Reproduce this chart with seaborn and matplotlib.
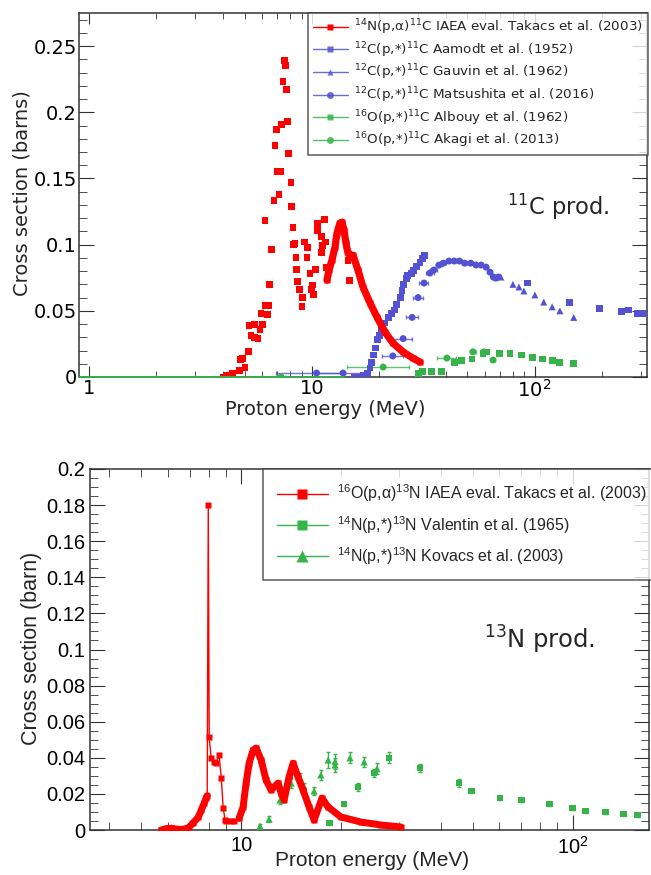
import numpy as np
import pandas as pd
import matplotlib
matplotlib.use("Agg")
import matplotlib.pyplot as plt
import seaborn as sns
from matplotlib.lines import Line2D
from matplotlib.ticker import FixedLocator, FixedFormatter, MultipleLocator, NullFormatter

# ---------------- DATA : top panel (11C production) ----------------
# 14N(p,a)11C IAEA eval. Takacs (scattered resonance region)
c_tak_scatter_E = [3.99, 4.1, 4.16, 4.3, 4.42, 4.75, 4.80, 4.90, 5.01, 5.17, 5.22, 5.33, 5.55, 5.55,
                   5.73, 5.85, 5.91, 6.03, 6.16, 6.22, 6.35, 6.42, 6.48, 6.62, 6.76, 6.83, 6.97,
                   7.04, 7.12, 7.27, 7.34, 7.42, 7.57, 7.65, 7.73, 7.81, 7.89, 8.06, 8.14, 8.23,
                   8.31, 8.40, 8.49, 8.57, 8.66, 8.84, 9.03, 9.12, 9.31, 9.51, 9.60, 9.81, 10.0,
                   10.1, 10.2, 10.4, 10.55, 10.65, 11.0, 11.1, 11.2, 11.45, 11.57, 11.69, 14.53, 14.83]
c_tak_scatter_S = [0.0, 0.0, 0.0015, 0.0008, 0.003, 0.005, 0.013, 0.014, 0.0075, 0.019, 0.039, 0.031,
                   0.040, 0.030, 0.029, 0.036, 0.048, 0.040, 0.1185, 0.054, 0.047, 0.054, 0.070,
                   0.096, 0.133, 0.175, 0.187, 0.155, 0.138, 0.155, 0.191, 0.2235, 0.239, 0.2356,
                   0.217, 0.193, 0.169, 0.147, 0.129, 0.113, 0.100, 0.101, 0.090, 0.0815, 0.0725,
                   0.066, 0.053, 0.060, 0.102, 0.090, 0.098, 0.0785, 0.066, 0.0695, 0.062, 0.081,
                   0.116, 0.111, 0.094, 0.106, 0.0997, 0.119, 0.102, 0.083, 0.088, 0.073]
# smooth part of the evaluation
c_tak_curve_E = [11.69, 11.94, 12.31, 12.70, 12.97, 13.37, 13.65, 13.94, 14.23, 14.53, 14.83,
                 15.30, 16.10, 16.97, 18.24, 19.60, 21.30, 23.10, 25.70, 28.40, 30.60]
c_tak_curve_S = [0.0732, 0.0808, 0.0883, 0.098, 0.1087, 0.1163, 0.117, 0.111, 0.101, 0.0936,
                 0.092, 0.092, 0.081, 0.068, 0.056, 0.0453, 0.034, 0.0257, 0.0189, 0.0143, 0.0113]

# 12C(p,*)11C Aamodt (1952)
c_aam_E = [15.6, 16.4, 17.1, 17.7, 18.24, 18.6, 19.0, 19.4, 19.8, 20.2, 20.6, 21.3, 22.0, 22.7,
           23.4, 24.1, 24.9, 25.4, 25.9, 26.5, 27.0, 27.9, 28.7, 29.6, 30.6, 31.5, 32.2,
           93.4, 144.0, 195.0, 247.0, 263.0, 291.0, 310.0]
c_aam_S = [0.0, 0.0, 0.0008, 0.003, 0.0068, 0.0113, 0.0166, 0.0219, 0.028, 0.0317, 0.0355,
           0.0408, 0.0453, 0.0483, 0.0506, 0.0551, 0.0604, 0.0657, 0.0702, 0.0747, 0.077,
           0.0785, 0.0808, 0.0838, 0.0868, 0.0898, 0.0921,
           0.071, 0.0566, 0.052, 0.0498, 0.0506, 0.048, 0.048]
# 12C(p,*)11C Gauvin (1962)
c_gau_E = [70.6, 80.0, 85.1, 89.6, 100.4, 110.0, 120.0, 130.0, 150.0]
c_gau_S = [0.0755, 0.070, 0.068, 0.065, 0.062, 0.0566, 0.053, 0.050, 0.045]
# 12C(p,*)11C Matsushita (2016)
c_mat_E = [10.5, 13.8, 23.1, 25.7, 28.2, 30.0, 31.9, 33.9, 35.3, 37.2, 39.0, 41.3, 43.6, 46.0,
           48.6, 51.7, 54.6, 57.6, 60.6, 63.1, 65.3, 66.9, 68.8]
c_mat_S = [0.003, 0.003, 0.0159, 0.029, 0.045, 0.060, 0.071, 0.0785, 0.0808, 0.0845, 0.086,
           0.0876, 0.0876, 0.0876, 0.086, 0.086, 0.0846, 0.0846, 0.083, 0.0792, 0.0755,
           0.0747, 0.0755]
c_mat_xerr = [3.6, 3.5, 2.5, 2.5, 1.7, 1.6, 1.5, 1.5, 1.2, 1.2, 1.2, 1.2, 1.2, 1.2, 1.2,
              1.2, 1.2, 1.2, 1.2, 1.2, 1.2, 1.2, 1.2]
# 16O(p,*)11C Albouy (1962)
c_alb_E = [30.0, 31.5, 34.6, 38.4, 43.9, 47.2, 52.4, 58.7, 61.1, 69.9, 77.6, 87.8, 98.4,
           109.0, 120.0, 130.0, 149.0]
c_alb_S = [0.0023, 0.0038, 0.0038, 0.0038, 0.0113, 0.0125, 0.0136, 0.018, 0.0189, 0.018,
           0.0175, 0.0166, 0.015, 0.0136, 0.0128, 0.0113, 0.0105]
# 16O(p,*)11C Akagi (2013)
c_aka_E = [7.27, 20.9, 40.4, 52.9, 59.2, 65.1]
c_aka_S = [0.0, 0.0075, 0.0143, 0.019, 0.019, 0.0128]
c_aka_xerr = [0.3, 6.5, 4.0, 1.5, 1.5, 1.5]
c_zero_line_E = [0.9, 14.0]
c_zero_line_S = [0.0, 0.0]

# ---------------- DATA : bottom panel (13N production) ----------------
n_tak_E = [5.74, 5.95, 6.16, 6.37, 6.60, 6.92, 7.17, 7.42, 7.58, 7.74, 7.85, 7.90, 7.96, 8.01,
           8.12, 8.29, 8.41, 8.58, 8.71, 8.83, 8.95, 9.01, 9.33, 9.53, 9.86, 10.14, 10.35,
           10.57, 10.87, 11.10, 11.49, 11.89, 12.31, 12.93, 13.20, 13.48, 13.95, 14.35, 14.85,
           15.37, 16.03, 16.60, 17.54, 18.28, 20.0, 23.0, 26.4, 30.3]
n_tak_S = [0.0, 0.0008, 0.001, 0.0005, 0.0003, 0.001, 0.004, 0.007, 0.011, 0.0150, 0.018,
           0.019, 0.180, 0.0515, 0.040, 0.0377, 0.037, 0.0415, 0.029, 0.012, 0.0055, 0.005,
           0.005, 0.005, 0.0065, 0.0128, 0.026, 0.037, 0.0443, 0.0454, 0.0388, 0.0277, 0.0222,
           0.026, 0.0205, 0.0166, 0.0294, 0.037, 0.0294, 0.0222, 0.0128, 0.0055, 0.0177,
           0.0128, 0.0072, 0.0044, 0.0028, 0.0017]
# index ranges where the evaluation points are so dense they form a band
n_tak_dense_low = (0, 12)     # 5.7 .. 7.9 MeV
n_tak_dense_high = (24, 48)   # 9.9 .. 30 MeV
# 14N(p,*)13N Valentin (1965)
n_val_E = [18.5, 20.4, 22.5, 25.2, 27.9, 34.6, 45.4, 49.6, 60.3, 70.2, 85.2, 100.0, 109.4,
           125.7, 142.4, 157.0]
n_val_S = [0.0039, 0.0144, 0.0238, 0.0316, 0.040, 0.0343, 0.026, 0.0216, 0.0177, 0.0166,
           0.0144, 0.0122, 0.0105, 0.0100, 0.0089, 0.0083]
n_val_yerr = [0.001, 0.001, 0.002, 0.002, 0.003, 0.002, 0.002, 0.001, 0.001, 0.001, 0.001,
              0.001, 0.001, 0.001, 0.001, 0.001]
# 14N(p,*)13N Kovacs (2003)
n_kov_E = [11.4, 12.14, 13.1, 14.15, 15.06, 15.48, 16.6, 17.4, 18.3, 19.2, 19.2, 21.3, 23.5, 25.7]
n_kov_S = [0.0022, 0.006, 0.0166, 0.026, 0.0288, 0.0238, 0.0216, 0.0305, 0.0388, 0.038,
           0.036, 0.040, 0.0377, 0.034]
n_kov_yerr = [0.001, 0.0015, 0.002, 0.003, 0.003, 0.002, 0.002, 0.003, 0.0045, 0.004,
              0.004, 0.003, 0.003, 0.003]

# ---------------- STYLE ----------------
RED = "#ff0000"
BLUE = "#5252d2"
GREEN = "#36b44a"
sns.set_style("ticks")
plt.rcParams["font.family"] = ["DejaVu Sans"]
plt.rcParams["mathtext.default"] = "regular"
plt.rcParams["axes.linewidth"] = 1.1
plt.rcParams["axes.edgecolor"] = "#333333"

fig = plt.figure(figsize=(6.51, 8.75), dpi=100)
W, H = 651.0, 875.0
ax1 = fig.add_axes([79 / W, 1 - 377 / H, 568 / W, 364 / H])
ax2 = fig.add_axes([90 / W, 1 - 830 / H, 559 / W, 361 / H])

ms = 5.0
# ---------- top panel ----------
sns.lineplot(x=c_zero_line_E, y=c_zero_line_S, ax=ax1, color=GREEN, lw=1.3, zorder=6,
             clip_on=False)
sns.scatterplot(x=c_tak_scatter_E, y=c_tak_scatter_S, ax=ax1, marker="s", s=ms**2,
                color=RED, edgecolor="none", zorder=5)
sns.lineplot(x=c_tak_curve_E, y=c_tak_curve_S, ax=ax1, color=RED, lw=5.2, zorder=5,
             marker="s", markersize=ms, markeredgecolor="none", sort=False)
ax1.errorbar(c_mat_E, c_mat_S, xerr=c_mat_xerr, fmt="none", ecolor=BLUE, elinewidth=1,
             capsize=1.5, alpha=0.8, zorder=3)
sns.scatterplot(x=c_mat_E, y=c_mat_S, ax=ax1, marker="o", s=ms**2, color=BLUE,
                edgecolor="none", zorder=4)
sns.scatterplot(x=c_aam_E, y=c_aam_S, ax=ax1, marker="s", s=ms**2, color=BLUE,
                edgecolor="none", zorder=4)
sns.scatterplot(x=c_gau_E, y=c_gau_S, ax=ax1, marker="^", s=ms**2, color=BLUE,
                edgecolor="none", zorder=4)
ax1.errorbar(c_aka_E, c_aka_S, xerr=c_aka_xerr, fmt="none", ecolor=GREEN, elinewidth=1,
             capsize=1.5, alpha=0.8, zorder=3)
sns.scatterplot(x=c_alb_E, y=c_alb_S, ax=ax1, marker="s", s=ms**2, color=GREEN,
                edgecolor="none", zorder=4)
sns.scatterplot(x=c_aka_E, y=c_aka_S, ax=ax1, marker="o", s=ms**2, color=GREEN,
                edgecolor="none", zorder=4)

ax1.set_xscale("log")
ax1.set_xlim(0.9, 320)
ax1.set_ylim(0, 0.275)
ax1.xaxis.set_major_locator(FixedLocator([1, 10, 100]))
ax1.xaxis.set_major_formatter(FixedFormatter(["1", "10", r"$10^{2}$"]))
ax1.xaxis.set_minor_locator(FixedLocator([k * d for d in (1, 10, 100) for k in range(2, 10)]))
ax1.xaxis.set_minor_formatter(NullFormatter())
ax1.yaxis.set_major_locator(MultipleLocator(0.05))
ax1.yaxis.set_minor_locator(MultipleLocator(0.01))
ax1.yaxis.set_major_formatter(matplotlib.ticker.FuncFormatter(
    lambda v, p: "0" if abs(v) < 1e-9 else ("%g" % round(v, 3))))
ax1.tick_params(which="both", direction="in", top=True, right=True, labelsize=14,
                colors="#333333", labelcolor="black")
ax1.tick_params(axis="y", which="major", length=11, pad=1.5)
ax1.tick_params(axis="y", which="minor", length=5.5)
ax1.tick_params(axis="x", which="major", length=8, pad=1.5)
ax1.tick_params(axis="x", which="minor", length=4.5)
ax1.set_xlabel("Proton energy (MeV)", fontsize=14)
ax1.set_ylabel("Cross section (barns)", fontsize=14)
ax1.xaxis.set_label_coords(0.433, -0.062)
ax1.yaxis.set_label_coords(-0.083, 0.505)
ax1.text(0.843, 0.467, r"$^{11}$C prod.", transform=ax1.transAxes, fontsize=16.3,
         ha="center", va="center")

h1 = [Line2D([], [], color=RED, lw=1, marker="s", markersize=5, markeredgecolor="none", alpha=1),
      Line2D([], [], color=BLUE, lw=1, marker="s", markersize=5, markeredgecolor="none", alpha=0.85),
      Line2D([], [], color=BLUE, lw=1, marker="^", markersize=5, markeredgecolor="none", alpha=0.85),
      Line2D([], [], color=BLUE, lw=1, marker="o", markersize=5, markeredgecolor="none", alpha=0.85),
      Line2D([], [], color=GREEN, lw=1, marker="s", markersize=5, markeredgecolor="none", alpha=0.85),
      Line2D([], [], color=GREEN, lw=1, marker="o", markersize=5, markeredgecolor="none", alpha=0.85)]
l1 = [r"$^{14}$N(p,$\alpha$)$^{11}$C IAEA eval. Takacs et al. (2003)",
      r"$^{12}$C(p,*)$^{11}$C Aamodt et al. (1952)",
      r"$^{12}$C(p,*)$^{11}$C Gauvin et al. (1962)",
      r"$^{12}$C(p,*)$^{11}$C Matsushita et al. (2016)",
      r"$^{16}$O(p,*)$^{11}$C Albouy et al. (1962)",
      r"$^{16}$O(p,*)$^{11}$C Akagi et al. (2013)"]
leg1 = fig.legend(h1, l1, loc="upper left", bbox_to_anchor=(308 / W, 1 - 13 / H),
                  fontsize=9.7, frameon=True, fancybox=False, borderpad=0.35,
                  labelspacing=0.22, handlelength=2.6, handletextpad=0.5,
                  borderaxespad=0)
leg1.get_frame().set_edgecolor("#333333")
leg1.get_frame().set_linewidth(1.1)

# ---------- bottom panel ----------
SANS2 = ["Liberation Sans", "DejaVu Sans"]
sns.lineplot(x=n_tak_E, y=n_tak_S, ax=ax2, color=RED, lw=1.0, marker="s", markersize=5,
             markeredgecolor="none", sort=False, zorder=5)
for a, b in (n_tak_dense_low, n_tak_dense_high):
    sns.lineplot(x=n_tak_E[a:b], y=n_tak_S[a:b], ax=ax2, color=RED, lw=5.0, sort=False,
                 zorder=5)
ax2.errorbar(n_val_E, n_val_S, yerr=n_val_yerr, fmt="none", ecolor=GREEN, elinewidth=1,
             capsize=1.5, zorder=3)
sns.scatterplot(x=n_val_E, y=n_val_S, ax=ax2, marker="s", s=4.6**2, color=GREEN,
                edgecolor="none", zorder=4)
ax2.errorbar(n_kov_E, n_kov_S, yerr=n_kov_yerr, fmt="none", ecolor=GREEN, elinewidth=1,
             capsize=1.5, zorder=3)
sns.scatterplot(x=n_kov_E, y=n_kov_S, ax=ax2, marker="^", s=5.2**2, color=GREEN,
                edgecolor="none", zorder=4)
ax2.set_xscale("log")
ax2.set_xlim(3.5, 170)
ax2.set_ylim(0, 0.2)
ax2.xaxis.set_major_locator(FixedLocator([10, 100]))
ax2.xaxis.set_major_formatter(FixedFormatter(["10", r"$10^{2}$"]))
ax2.xaxis.set_minor_locator(FixedLocator([k * d for d in (1, 10, 100) for k in range(2, 10)]))
ax2.xaxis.set_minor_formatter(NullFormatter())
ax2.yaxis.set_major_locator(MultipleLocator(0.02))
ax2.yaxis.set_minor_locator(MultipleLocator(0.005))
ax2.yaxis.set_major_formatter(matplotlib.ticker.FuncFormatter(
    lambda v, p: "0" if abs(v) < 1e-9 else ("%g" % round(v, 3))))
ax2.tick_params(which="both", direction="in", top=True, right=True, labelsize=14.5,
                colors="#333333", labelcolor="black")
ax2.tick_params(axis="y", which="major", length=11)
ax2.tick_params(axis="y", which="minor", length=5.5)
ax2.tick_params(axis="x", which="major", length=11, pad=4)
ax2.tick_params(axis="x", which="minor", length=5.5)
for lab in ax2.get_xticklabels() + ax2.get_yticklabels():
    lab.set_family(SANS2)
ax2.set_xlabel("Proton energy (MeV)", fontsize=15, family=SANS2)
ax2.set_ylabel("Cross section (barn)", fontsize=15.5, family=SANS2)
ax2.xaxis.set_label_coords(0.504, -0.058)
ax2.yaxis.set_label_coords(-0.086, 0.504)
ax2.text(0.805, 0.526, r"$^{13}$N prod.", transform=ax2.transAxes, fontsize=17.5,
         ha="center", va="center")

h2 = [Line2D([], [], color=RED, lw=1, marker="s", markersize=7, markeredgecolor="none"),
      Line2D([], [], color=GREEN, lw=1, marker="s", markersize=7, markeredgecolor="none"),
      Line2D([], [], color=GREEN, lw=1, marker="^", markersize=8, markeredgecolor="none")]
l2 = [r"$^{16}$O(p,α)$^{13}$N IAEA eval. Takacs et al. (2003)",
      r"$^{14}$N(p,*)$^{13}$N Valentin et al. (1965)",
      r"$^{14}$N(p,*)$^{13}$N Kovacs et al. (2003)"]
leg2 = fig.legend(h2, l2, loc="upper left", bbox_to_anchor=(263 / W, 1 - 469 / H),
                  prop={"family": SANS2, "size": 11.5}, frameon=True, fancybox=False,
                  borderpad=0.85, labelspacing=0.6, handlelength=3.2, handletextpad=0.6,
                  borderaxespad=0)
leg2.get_frame().set_edgecolor("#333333")
leg2.get_frame().set_linewidth(1.1)
for ax in (ax1, ax2):
    if ax.get_legend() is not None:
        ax.get_legend().remove()

fig.savefig("out.png", dpi=100)
